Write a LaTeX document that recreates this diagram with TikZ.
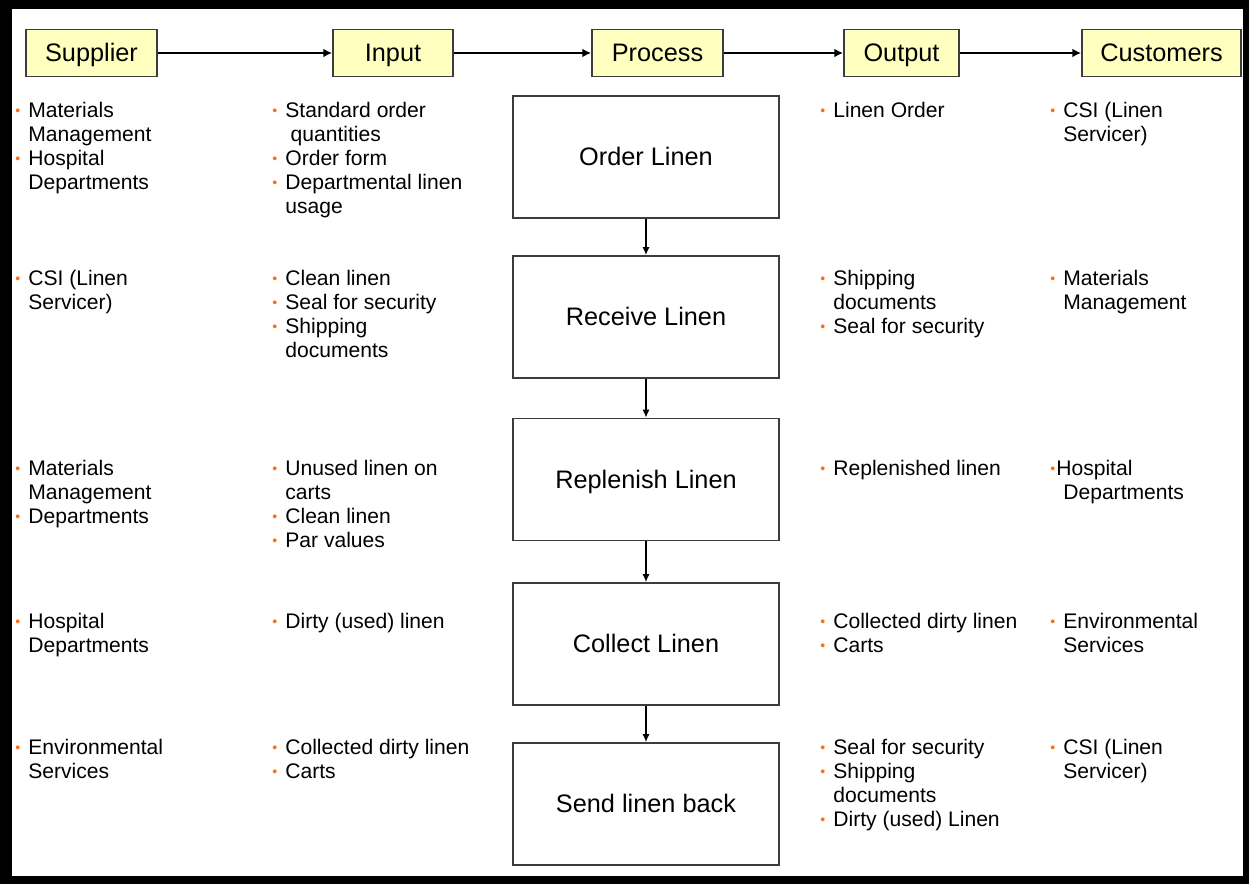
\documentclass[tikz,border=0pt]{standalone}
\usepackage{fontspec}
\setmainfont{Liberation Sans}
\usepackage{xcolor}
\usepackage{tikz}
\usetikzlibrary{arrows.meta}
\definecolor{hdryellow}{RGB}{255,255,192}
\definecolor{bulorange}{RGB}{250,110,20}
\definecolor{boxgray}{RGB}{60,60,60}
\newlength{\bulw}
\setlength{\bulw}{7.4pt}
\newcommand{\bul}{\makebox[\bulw][l]{\textcolor{bulorange}{\raisebox{0.2ex}{\footnotesize\textbullet}}}}
\newcommand{\cont}{\hspace*{\bulw}}

\begin{document}
\begin{tikzpicture}[x=0.02cm,y=-0.02cm,
    hdr/.style={draw=boxgray,line width=1pt,fill=hdryellow,minimum height=0.94cm,
      text height=12.2pt,text depth=2pt,font=\fontsize{14.4}{17}\selectfont},
    proc/.style={draw=boxgray,line width=1pt,minimum width=5.32cm,minimum height=2.44cm,
      text height=12.2pt,text depth=2pt,font=\fontsize{14.4}{17}\selectfont},
    lst/.style={anchor=north west,inner sep=0pt,align=left,
      font=\fontsize{12}{13.66}\selectfont},
    bigflow/.style={line width=1.6pt,-{Latex[length=5pt,width=5pt]}},
    flow/.style={line width=0.8pt,-{Latex[length=4.5pt,width=4pt]}}]
      % frame
      \fill[black] (0,0) rectangle (1249,884);
      \fill[white] (12,9) rectangle (1243,876);
      % header row
      \node[hdr,minimum width=2.62cm] (sup) at (91.5,53) {Supplier};
      \node[hdr,minimum width=2.4cm] (inp) at (393,53) {Input};
      \node[hdr,minimum width=2.62cm] (prc) at (657.5,53) {Process};
      \node[hdr,minimum width=2.3cm] (out) at (901.5,53) {Output};
      \node[hdr,minimum width=3.18cm] (cus) at (1161.5,53) {Customers};
      \draw[bigflow] (sup) -- (inp);
      \draw[bigflow] (inp) -- (prc);
      \draw[bigflow] (prc) -- (out);
      \draw[bigflow] (out) -- (cus);
      % process steps
      \node[proc] (p1) at (646,157) {Order Linen};
      \node[proc] (p2) at (646,317) {Receive Linen};
      \node[proc] (p3) at (646,479.5) {Replenish Linen};
      \node[proc] (p4) at (646,644) {Collect Linen};
      \node[proc] (p5) at (646,804) {Send linen back};
      \draw[flow] (p1) -- (p2);
      \draw[flow] (p2) -- (p3);
      \draw[flow] (p3) -- (p4);
      \draw[flow] (p4) -- (p5);
      % supplier column
      \node[lst] (s1) at (15,102) {\bul Materials\\\cont Management\\\bul Hospital\\\cont Departments};
      \node[lst] (s2) at (15,270) {\bul CSI (Linen\\\cont Servicer)};
      \node[lst] (s3) at (15,460) {\bul Materials\\\cont Management\\\bul Departments};
      \node[lst] (s4) at (15,613) {\bul Hospital\\\cont Departments};
      \node[lst] (s5) at (15,739) {\bul Environmental\\\cont Services};
      % input column
      \node[lst] (i1) at (272,102) {\bul Standard order\\\cont\hspace*{3pt}quantities\\\bul Order form\\\bul Departmental linen\\\cont usage};
      \node[lst] (i2) at (272,270) {\bul Clean linen\\\bul Seal for security\\\bul Shipping\\\cont documents};
      \node[lst] (i3) at (272,460) {\bul Unused linen on\\\cont carts\\\bul Clean linen\\\bul Par values};
      \node[lst] (i4) at (272,613) {\bul Dirty (used) linen};
      \node[lst] (i5) at (272,739) {\bul Collected dirty linen\\\bul Carts};
      % output column
      \node[lst] (o1) at (820,102) {\bul Linen Order};
      \node[lst] (o2) at (820,270) {\bul Shipping\\\cont documents\\\bul Seal for security};
      \node[lst] (o3) at (820,460) {\bul Replenished linen};
      \node[lst] (o4) at (820,613) {\bul Collected dirty linen\\\bul Carts};
      \node[lst] (o5) at (820,739) {\bul Seal for security\\\bul Shipping\\\cont documents\\\bul Dirty (used) Linen};
      % customers column
      \node[lst] (c1) at (1050,102) {\bul CSI (Linen\\\cont Servicer)};
      \node[lst] (c2) at (1050,270) {\bul Materials\\\cont Management};
      \node[lst] (c3) at (1050,460) {\bul\hspace*{-4pt}Hospital\\\cont Departments};
      \node[lst] (c4) at (1050,613) {\bul Environmental\\\cont Services};
      \node[lst] (c5) at (1050,739) {\bul CSI (Linen\\\cont Servicer)};
    \end{tikzpicture}
\end{document}
